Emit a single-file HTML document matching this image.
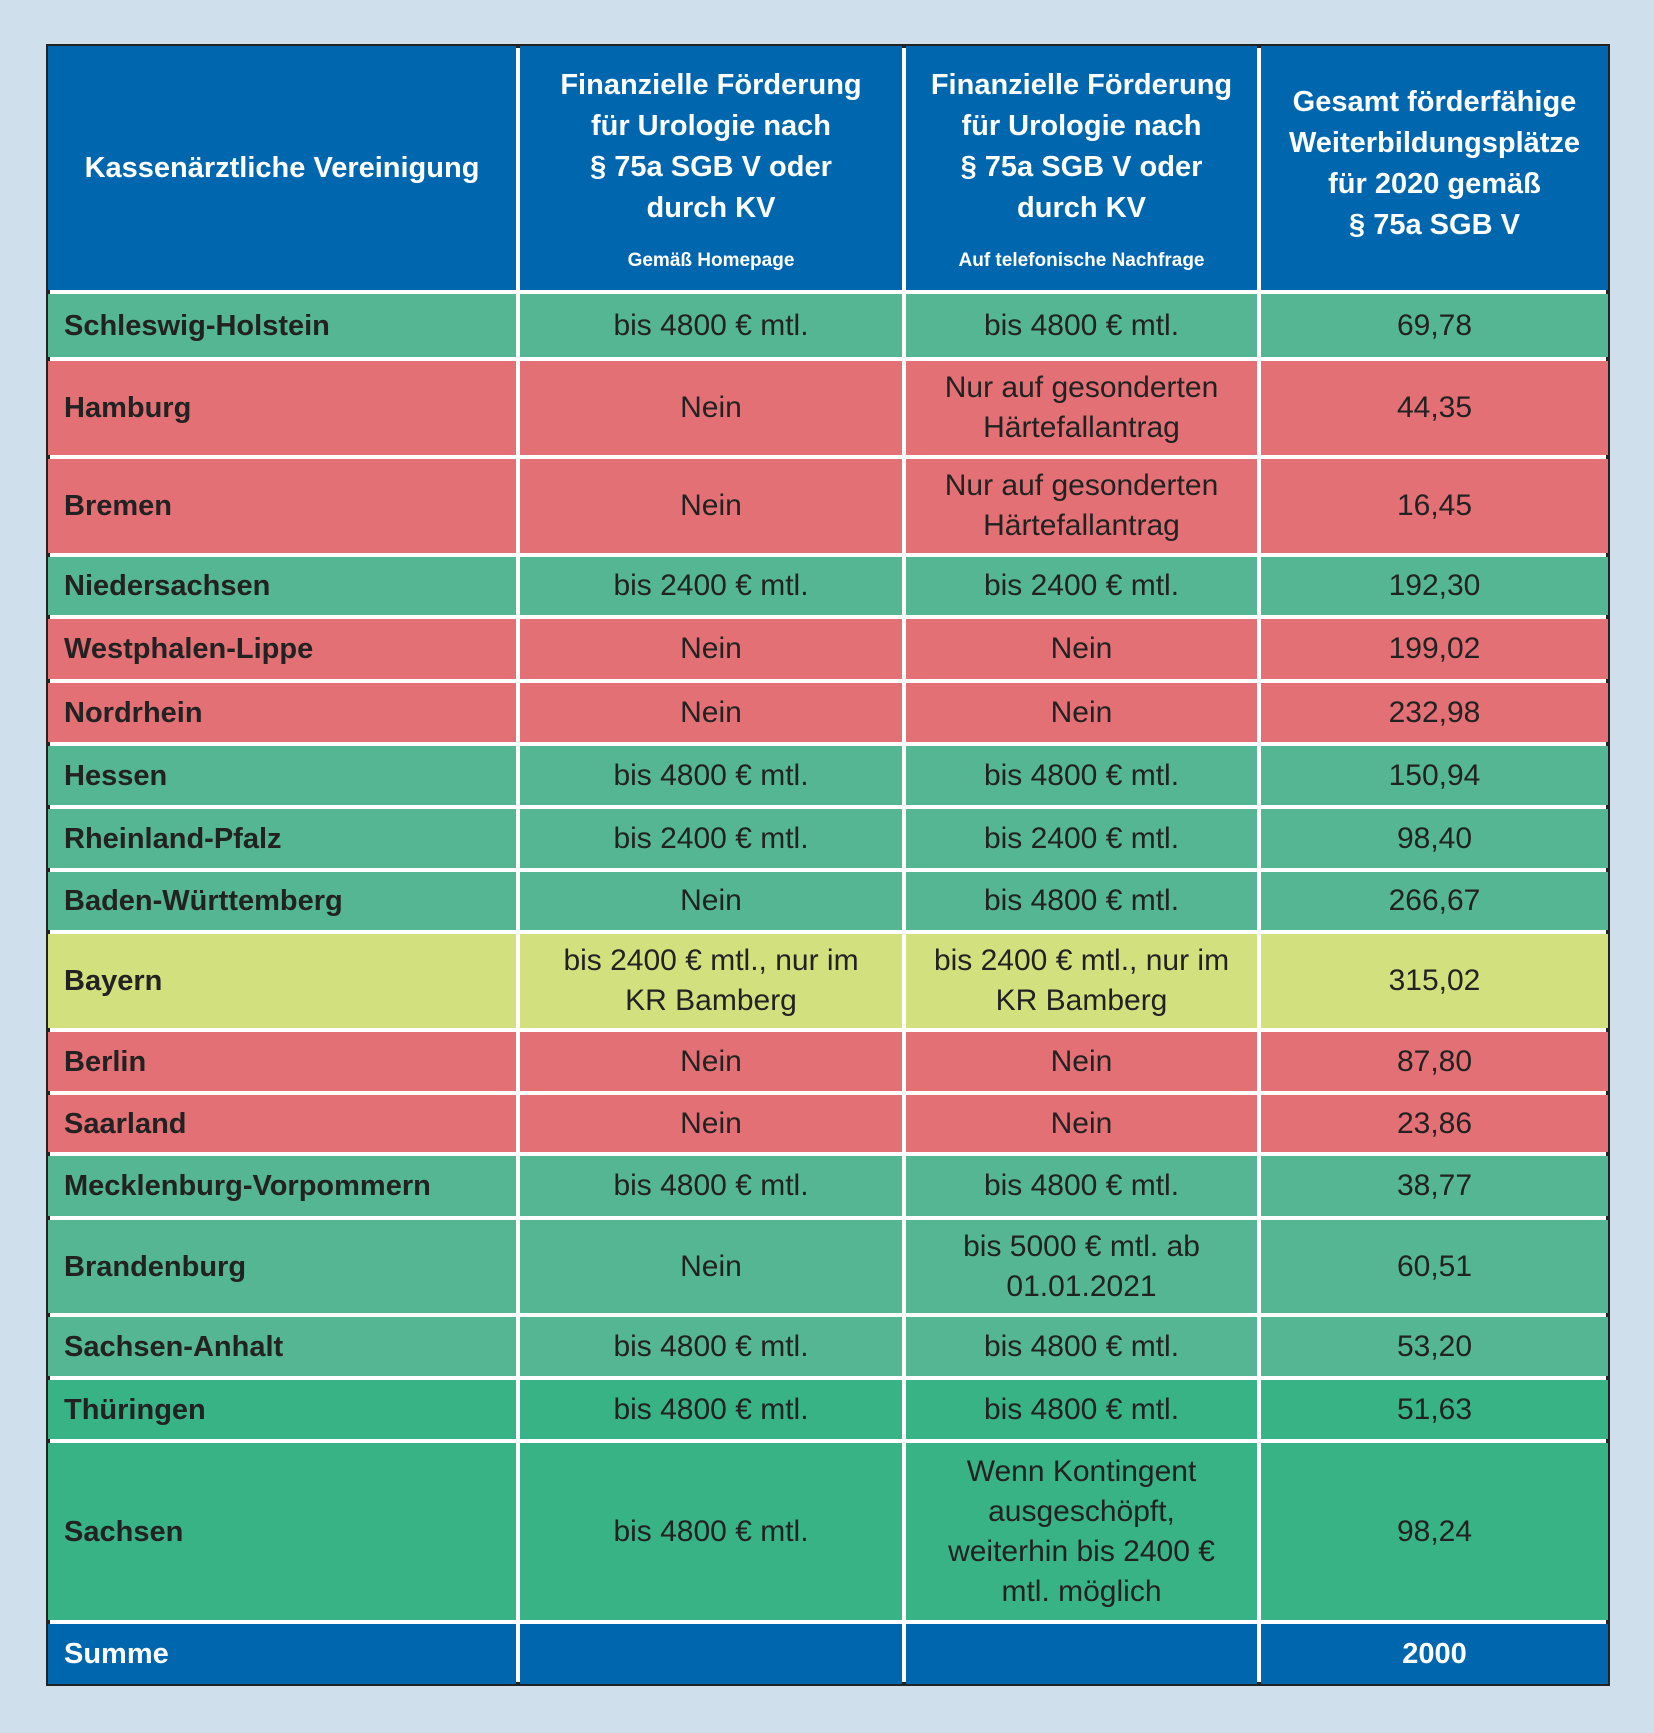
<!DOCTYPE html>
<html><head><meta charset="utf-8">
<style>
body{margin:0;width:1654px;height:1733px;background:#cfe0ec;font-family:"Liberation Sans",sans-serif;position:relative;overflow:hidden}
#tbl{position:absolute;left:46px;top:44px;width:1564px;height:1642px;background:#222}
#inner{position:absolute;left:4px;top:4px;width:1556px;height:1634px;background:#fff}
.c{position:absolute;display:flex;align-items:center;justify-content:center;text-align:center;color:#222;font-size:30px;line-height:40px;box-sizing:border-box}
.n{justify-content:flex-start;text-align:left;padding-left:16px;font-weight:bold;font-size:29px}
.h{color:#fff;font-weight:bold;font-size:29px;line-height:41px;flex-direction:column}
.sub{font-size:19px;line-height:20px;margin-top:22px}
</style></head><body>
<div id="tbl"><div id="inner"></div></div>
<script>
const rowNames=["Schleswig-Holstein","Hamburg","Bremen","Niedersachsen","Westphalen-Lippe","Nordrhein","Hessen","Rheinland-Pfalz","Baden-Württemberg","Bayern","Berlin","Saarland","Mecklenburg-Vorpommern","Brandenburg","Sachsen-Anhalt","Thüringen","Sachsen"];
const homepage=["bis 4800 € mtl.","Nein","Nein","bis 2400 € mtl.","Nein","Nein","bis 4800 € mtl.","bis 2400 € mtl.","Nein","bis 2400 € mtl., nur im<br>KR Bamberg","Nein","Nein","bis 4800 € mtl.","Nein","bis 4800 € mtl.","bis 4800 € mtl.","bis 4800 € mtl."];
const phone=["bis 4800 € mtl.","Nur auf gesonderten<br>Härtefallantrag","Nur auf gesonderten<br>Härtefallantrag","bis 2400 € mtl.","Nein","Nein","bis 4800 € mtl.","bis 2400 € mtl.","bis 4800 € mtl.","bis 2400 € mtl., nur im<br>KR Bamberg","Nein","Nein","bis 4800 € mtl.","bis 5000 € mtl. ab<br>01.01.2021","bis 4800 € mtl.","bis 4800 € mtl.","Wenn Kontingent<br>ausgeschöpft,<br>weiterhin bis 2400 €<br>mtl. möglich"];
const places=["69,78","44,35","16,45","192,30","199,02","232,98","150,94","98,40","266,67","315,02","87,80","23,86","38,77","60,51","53,20","51,63","98,24"];
const status=["g","r","r","g","r","r","g","g","g","y","r","r","g","g","g","d","d"];
const colors={g:"#54b692",r:"#e27074",y:"#d3e07e",d:"#38b385",b:"#0066ae"};
const colX=[48,518,904,1259,1608];
const rowY=[46,292,359,457,555,617,681,744,807,870,932,1030,1093,1154,1218,1315,1378,1441,1622,1684];
const inner=document.getElementById('inner');
function cell(ci,ri,html,bg,cls,name){
  const d=document.createElement('div');
  
  
  d.className='c '+(cls||'');
  const x0=colX[ci]+(ci?2:0)-50,x1=colX[ci+1]-(ci<3?2:0)-50;
  const y0=rowY[ri]+(ri?2:0)-48,y1=rowY[ri+1]-(ri<rowY.length-2?2:0)-48;
  d.style.left=x0+'px';d.style.top=y0+'px';d.style.width=(x1-x0)+'px';d.style.height=(y1-y0)+'px';
  d.style.background=bg;d.innerHTML=html;inner.appendChild(d);
}
cell(0,0,"Kassenärztliche Vereinigung",colors.b,"h","header-kv");
cell(1,0,"<div>Finanzielle Förderung<br>für Urologie nach<br>§ 75a SGB V oder<br>durch KV</div><div class='sub'>Gemäß Homepage</div>",colors.b,"h","header-homepage");
cell(2,0,"<div>Finanzielle Förderung<br>für Urologie nach<br>§ 75a SGB V oder<br>durch KV</div><div class='sub'>Auf telefonische Nachfrage</div>",colors.b,"h","header-phone");
cell(3,0,"<div style='margin-top:-8px'>Gesamt förderfähige<br>Weiterbildungsplätze<br>für 2020 gemäß<br>§ 75a SGB V</div>",colors.b,"h","header-places");
rowNames.forEach((n,i)=>{
  const bg=colors[status[i]];
  cell(0,i+1,n,bg,"n","kv-name");
  cell(1,i+1,homepage[i],bg,"","homepage-funding");
  cell(2,i+1,phone[i],bg,"","phone-funding");
  cell(3,i+1,places[i],bg,"","places-value");
});
const last=rowNames.length+1;
cell(0,last,"Summe",colors.b,"n h","sum-label");
document.querySelectorAll('.n.h').forEach(e=>{e.style.alignItems='center';e.style.flexDirection='row';});
cell(1,last,"",colors.b,"","sum-empty-1");
cell(2,last,"",colors.b,"","sum-empty-2");
cell(3,last,"2000",colors.b,"h","sum-value");
</script>
</body></html>
